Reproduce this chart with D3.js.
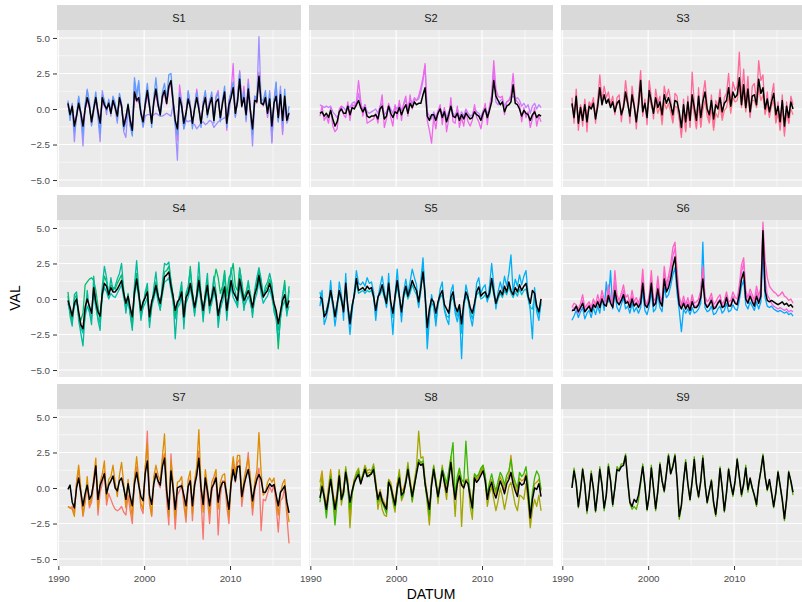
<!DOCTYPE html>
<html>
<head>
<meta charset="utf-8">
<script src="https://cdn.jsdelivr.net/npm/d3@7"></script>
<style>
  body { margin: 0; background: #fff; }
  svg { display: block; font-family: "Liberation Sans", Arial, sans-serif; }
</style>
</head>
<body>
<div id="main"></div>
<script>
// facet names and axis ticks
const stations = ['S1', 'S2', 'S3', 'S4', 'S5', 'S6', 'S7', 'S8', 'S9'];
const yTicks = [-5, -2.5, 0, 2.5, 5];
const xTickYears = [1990, 2000, 2010];

// one value per quarter, Feb 1991 .. Nov 2016 (104 values)
const s1_mean = [0.4,-0.4,0.2,-1.2, -0.5,0.4,-0.3,-1.2, 0.0,0.8,0.2,-0.9, 0.0,0.8,-0.2,-1.0, 0.8,0.3,0.0,0.4, -0.3,0.6,0.1,-0.5, 0.8,0.2,-1.2,-0.6, 0.3,-0.8,-1.5,1.2, 0.6,0.8,-0.3,-0.9, 0.3,1.3,0.2,-1.0, 0.5,1.4,0.3,-0.4, 0.9,1.3,0.4,1.6, 2.0,0.5,-0.8,-1.4, 0.8,0.2,-1.0,-0.3, 0.7,0.1,-1.0,0.0, 0.8,0.0,-1.0,0.2, 0.8,-0.4,0.3,0.8, -0.8,0.5,0.7,-0.6, 0.4,1.2,-1.0,0.3, 0.8,1.5,-0.3,0.5, 2.1,0.2,0.8,-0.4, 1.4,-0.1,-1.4,0.6, 0.5,2.3,0.4,0.3, 0.8,-0.3,0.7,-1.2, 0.4,0.9,-0.6,1.0, -0.8,0.9,-0.8,-0.3];
const s1_a = [0.5,-0.8,0.4,-1.6, -0.6,0.9,-0.2,-1.8, 0.3,1.3,0.5,-1.2, 0.2,1.2,-0.4,-1.7, 1.0,0.6,-0.1,0.6, -0.2,0.9,0.4,-0.8, 1.1,0.3,-1.5,-0.9, 0.4,-1.1,-1.9,2.2, 1.0,2.0,-0.2,-1.2, 0.6,1.8,0.4,-1.3, 0.8,2.2,0.6,-0.5, 1.2,1.8,0.7,2.4, 2.5,0.8,-1.0,-1.8, 1.1,0.4,-1.4,-0.6, 1.3,0.3,-1.4,0.2, 1.2,0.2,-1.3,0.4, 1.3,-0.6,0.5,1.2, -1.0,0.8,1.1,-0.9, 0.6,1.6,-1.3,0.5, 1.2,1.9,-0.5,0.8, 2.4,0.4,1.2,-0.7, 1.8,0.0,-1.8,0.9, 0.8,2.2,0.7,0.6, 1.3,-0.2,1.1,-1.5, 0.6,1.9,-0.9,1.3, -1.0,1.4,-0.8,0.2];
const s1_b = [0.6,-0.5,0.3,-2.3, -0.4,0.8,-0.5,-2.6, 0.2,1.4,0.3,-1.1, -0.2,0.9,-0.6,-2.3, 1.3,0.5,-0.4,0.7, -0.5,0.8,0.0,-1.0, 1.0,0.3,-1.6,-2.0, 0.1,-1.2,-1.8,1.9, 0.8,1.8,-0.4,-1.3, -0.5,-0.4,-0.4,-0.5, -0.4,-0.3,-0.4,-0.5, -0.5,-0.4,-0.3,-0.4, -0.5,0.3,-1.2,-3.6, 0.9,0.0,-1.4,-0.8, -0.9,-0.8,-1.0,-1.1, -1.4,-1.2,-1.0,-0.9, -1.1,-1.0,-0.8,-0.9, -1.3,-1.1,-0.9,-0.8, -0.7,-0.6,-0.7,-0.4, 1.0,1.8,-0.6,0.6, 2.6,0.1,1.0,-0.9, 1.2,-0.3,-2.6,0.5, 0.7,5.1,0.5,0.4, 0.9,-0.5,1.3,-2.4, 0.5,1.2,-0.9,1.6, -1.6,0.8,-1.0,-0.6];
const s1_c = [0.2,-0.2,0.1,-0.9, -0.4,0.3,-0.2,-1.0, 0.0,0.6,0.1,-0.8, 0.0,0.6,-0.1,-0.8, 0.5,0.2,0.0,0.3, -0.2,0.4,0.1,-0.4, 0.6,0.1,-1.0,-0.5, 0.2,-0.7,-1.2,0.9, 0.5,0.6,-0.2,-0.7, 0.2,1.0,0.1,-0.8, 0.4,1.1,0.2,-0.3, 0.7,1.1,0.3,1.4, 1.8,0.4,-0.9,-2.2, 1.7,0.5,-1.3,-0.2, 1.2,0.3,-1.2,0.1, 1.4,0.2,-1.1,0.5, 1.2,-0.3,0.6,1.0, -0.6,0.9,1.3,-0.7, 0.6,1.3,-1.5,0.6, 1.2,3.2,-0.5,0.7, 2.7,0.2,1.6,-0.5, 2.1,0.0,-1.6,0.9, 0.4,2.6,0.6,0.2, 1.0,-0.6,0.8,-2.3, 0.4,1.8,-0.8,1.2, -1.8,0.7,-0.9,-0.2];

const s2_mean = [-0.3,-0.2,-0.5,-0.3, -0.6,-0.1,-0.7,-1.2, -0.9,-0.2,0.0,-0.3, -0.3,0.2,-0.4,0.1, 0.0,0.3,0.6,0.1, -0.2,0.1,-0.5,-0.6, -0.5,-0.5,-0.4,-0.7, 0.0,0.2,-0.7,-0.5, 0.2,-0.3,-0.6,-0.2, -0.3,0.1,-0.4,0.0, 0.3,-0.3,0.4,0.1, 0.5,0.3,0.4,0.4, 1.0,1.5,-0.5,-0.8, -0.4,-0.4,-0.8,-0.3, 0.0,-0.6,-0.2,-0.9, -0.4,0.2,-0.5,-0.6, -0.3,-0.8,-0.4,-0.7, -0.3,-0.5,-0.7,-0.6, -0.2,-0.4,-0.5,-0.8, -0.3,0.0,-0.6,-0.1, 0.5,2.0,0.9,0.6, 0.3,0.5,-0.2,0.2, 0.3,0.5,1.7,0.4, 0.3,0.0,-0.5,-0.1, -0.3,-0.4,-0.8,-0.4, -0.2,-0.6,-0.4,-0.5];
const s2_a = [-0.5,0.2,-0.8,-0.5, -1.0,0.1,-1.2,-1.6, -1.4,0.0,0.2,-0.4, -0.6,0.5,-0.8,0.3, 0.2,0.5,2.0,0.6, -0.5,0.3,-1.0,-0.9, -0.8,-0.7,-0.3,-1.0, 0.1,1.0,-1.3,-0.7, 0.4,-0.6,-1.2,0.3, -0.7,0.6,-0.8,0.4, 0.9,-0.5,1.0,0.0, 0.7,0.6,0.9,1.5, 2.2,3.2,-0.8,-1.5, -2.4,-0.6,-1.4,-0.2, 0.3,-1.1,0.1,-1.6, -0.7,0.8,-0.9,-1.0, 0.2,-1.3,-0.6,-1.2, -0.1,-0.9,-1.2,-0.8, 0.3,-0.6,-0.9,-1.4, -0.5,0.4,-1.1,0.2, 1.0,3.4,1.4,0.9, 0.8,0.9,-0.4,0.5, 0.6,1.0,2.5,0.7, 0.5,0.3,-0.9,0.1, -0.6,-0.2,-1.3,-0.7, 0.1,-1.2,-0.5,-0.9];
const s2_b = [0.3,0.2,0.1,0.2, 0.1,0.2,-0.2,-0.4, -0.6,-0.3,0.2,0.1, -0.1,0.3,0.1,0.4, 0.5,0.2,1.1,0.3, 0.0,0.3,-0.2,-0.3, -0.2,-0.1,0.0,-0.3, 0.2,0.4,-0.4,-0.2, 0.3,0.0,-0.3,0.2, 0.0,0.4,-0.1,0.3, 0.6,0.1,0.7,0.4, 0.8,0.6,0.7,1.2, 2.0,3.0,-0.2,-0.5, -0.7,-0.2,-0.6,-0.1, 0.1,-0.4,0.0,-0.6, -0.2,0.3,-0.3,-0.5, 0.0,-0.6,-0.2,-0.5, 0.0,-0.3,-0.5,-0.4, 0.1,-0.2,-0.3,-0.6, -0.1,0.2,-0.4,0.1, 0.8,2.8,0.5,0.3, 0.6,0.7,0.2,0.5, 0.6,0.8,0.9,0.7, 0.8,0.6,0.2,0.4, 0.1,0.3,-0.3,0.2, 0.4,0.0,0.3,0.1];

const s3_mean = [0.4,-0.6,0.9,-1.0, 0.1,-0.8,0.3,-0.9, 0.2,0.0,0.4,-0.7, 0.2,1.5,0.3,1.0, 0.4,0.7,0.1,0.5, -0.2,0.4,0.6,-0.4, 0.1,1.2,0.4,-0.5, 1.0,0.2,-0.9,0.3, 2.0,-0.2,0.4,-0.6, 1.3,0.5,-0.3,0.8, 0.1,0.5,-0.4,1.0, 0.4,0.8,0.3,-0.4, 0.6,0.5,-0.2,-1.3, 0.3,-0.9,0.5,-0.8, 1.0,0.1,-0.8,0.9, -0.6,0.5,1.2,0.0, -0.4,0.6,-0.7,0.3, 0.0,0.8,-0.2,0.4, 0.6,1.5,0.2,1.2, 0.8,1.0,2.2,0.3, 1.7,0.1,1.4,-0.2, 0.9,1.0,0.3,2.1, 1.1,1.5,0.0,0.7, -0.2,0.5,1.1,-0.4, 0.2,-0.9,0.6,-1.2, 0.2,-0.6,0.5,0.0];
const s3_a = [0.8,-1.0,1.4,-1.5, 0.2,-1.2,0.7,-1.6, 0.5,0.2,0.8,-1.0, 0.6,2.4,0.6,1.6, 0.8,1.2,0.3,0.9, -0.4,0.8,1.0,-0.9, 0.3,2.0,0.7,-1.0, 1.6,0.4,-1.4,0.8, 2.7,-0.5,0.7,-1.1, 2.0,0.8,-0.7,1.4, 0.4,0.9,-0.8,1.6, 0.8,1.4,0.6,-0.9, 1.1,0.9,-0.6,-2.0, 0.7,-1.6,0.9,-1.3, 2.6,0.4,-1.3,1.5, -1.2,0.9,2.0,0.2, -0.9,1.0,-1.3,0.6, 0.2,1.4,-0.6,0.8, 1.1,2.5,0.4,1.9, 1.3,1.6,4.0,0.6, 2.8,0.3,2.3,-0.6, 1.6,1.8,0.5,3.4, 2.0,2.4,-0.3,1.2, -0.6,0.9,1.8,-0.9, 0.5,-1.4,1.0,-1.9, 0.5,-1.0,0.9,0.3];
const s3_b = [0.3,-0.4,0.6,-0.7, 0.3,-0.5,0.5,-0.6, 0.4,0.2,0.5,-0.4, 0.4,1.2,0.5,0.8, 0.6,0.5,0.3,0.4, 0.0,0.3,0.5,-0.2, 0.3,0.8,0.3,-0.3, 0.7,0.3,-0.6,0.2, 1.3,-0.1,0.3,-0.4, 0.8,0.2,-0.3,0.4, -0.3,0.2,-1.1,0.5, 0.0,0.4,-0.2,-1.0, 0.2,0.1,-0.7,-1.8, -0.2,-1.5,0.1,-1.2, 0.5,-0.4,-1.4,0.4, -1.3,-0.1,0.6,-0.5, -1.0,0.1,-1.5,-0.3, -0.6,0.3,-0.8,-0.1, 0.1,0.9,-0.3,0.8, 0.5,0.6,1.6,0.1, 1.2,-0.2,1.0,-0.5, 0.6,0.6,0.1,1.5, 0.6,1.0,-0.4,0.3, -0.5,0.2,0.6,-1.0, -0.3,-1.5,0.1,-1.7, -0.2,-1.0,0.0,-0.4];

const s4_mean = [-0.1,-0.6,-1.2,-0.3, 0.0,-0.9,-1.8,-2.1, -0.6,0.0,-0.5,-1.0, 0.8,-0.2,-0.9,-1.2, 0.4,1.1,0.9,0.3, 0.8,0.5,0.5,0.7, 1.0,1.3,0.4,-0.3, 0.2,-0.6,-1.25,0.5, 1.4,0.4,-0.8,-0.2, 0.1,0.5,-1.25,-0.2, 0.3,0.95,0.2,-0.3, 0.6,1.55,1.7,1.9, 0.9,0.2,-0.8,-0.2, 0.0,0.5,-1.25,0.1, 0.4,1.1,0.3,-0.6, 0.2,1.3,0.2,-0.8, 0.2,0.95,-0.45,0.1, 0.85,0.2,-1.15,-0.3, 0.2,0.85,-0.8,0.3, 1.3,0.5,0.2,-0.1, 1.4,0.6,-0.1,0.2, 0.6,0.1,-0.6,0.3, 0.8,1.65,0.8,0.15, 0.4,0.6,1.1,0.5, -0.3,-0.8,-1.75,-0.9, -0.1,0.3,-0.6,-0.1];
const s4_a = [0.2,-1.2,-1.9,0.3, 0.5,-1.5,-2.4,-3.3, -1.0,0.6,-0.9,-1.8, 1.6,-0.3,-1.5,-2.2, 0.9,2.3,1.5,0.2, 1.5,0.6,0.9,1.4, 1.8,2.5,0.6,-1.0, 0.4,-1.1,-2.2,1.0, 2.7,0.7,-1.5,-0.5, 0.5,1.1,-2.0,-0.6, 0.8,1.9,0.3,-0.8, 1.2,2.5,2.4,2.6, 1.3,0.1,-2.8,-0.7, 0.3,1.2,-2.1,0.4, 0.9,2.0,0.4,-1.2, 0.4,2.6,0.3,-1.6, 0.5,1.8,-1.0,0.3, 1.6,0.5,-2.0,-0.7, 0.6,1.8,-1.5,0.7, 2.2,1.0,0.5,-0.6, 2.1,1.1,-0.8,0.4, 1.3,0.2,-1.3,0.6, 1.5,2.2,1.4,0.1, 0.9,1.2,1.8,1.1, -0.9,-1.4,-2.9,-1.5, 0.3,1.0,-1.2,0.6];
const s4_b = [0.5,-0.8,-1.6,0.0, 0.3,-1.2,-1.5,-1.0, 1.0,1.2,1.4,1.5, 1.3,0.6,-0.5,-1.5, 0.6,1.6,1.2,0.4, 1.0,0.8,0.7,1.1, 1.4,1.7,0.5,-0.5, 0.3,-0.9,-2.0,0.6, 1.8,0.5,-1.2,-0.3, 0.2,0.9,-1.6,-0.3, 0.5,1.2,0.3,-0.6, 0.8,1.9,2.0,2.3, 1.2,0.3,-1.2,-0.4, 0.2,0.9,-1.6,0.3, 0.6,2.3,0.5,-0.8, 0.4,1.6,0.3,-1.1, 0.4,1.3,-0.6,0.2, 1.2,2.1,1.5,0.4, 0.9,2.0,0.2,1.5, 1.8,2.5,0.9,0.6, 2.2,1.2,0.1,0.5, 1.0,0.4,-0.9,0.5, 1.1,2.0,1.2,0.3, 0.6,0.9,1.4,0.8, -0.5,-1.0,-3.5,-1.2, 0.2,1.3,-0.9,0.9];
const s4_c = [-0.3,-0.9,-1.5,-0.5, -0.2,-1.1,-2.0,-2.4, -1.2,-0.5,-0.9,-1.4, 0.4,-0.6,-1.3,-1.7, 0.2,0.8,0.5,0.0, 0.4,0.2,0.1,0.4, 0.7,1.0,0.1,-0.7, -0.2,-1.0,-1.7,0.2, 1.1,0.1,-1.2,-0.6, -0.3,0.1,-1.6,-0.5, 0.0,0.7,-0.2,-0.7, 0.3,1.2,1.3,1.5, 0.6,-0.2,-1.4,-0.6, -0.4,0.2,-1.7,-0.3, 0.1,0.8,-0.1,-1.0, -0.1,0.9,-0.2,-1.2, -0.2,0.6,-0.8,-0.3, 0.5,-0.1,-1.5,-0.7, -0.2,0.5,-1.2,-0.1, 0.9,0.1,-0.2,-0.5, 1.0,0.2,-0.5,-0.2, 0.2,-0.3,-1.0,-0.1, 0.4,1.3,0.4,-0.3, 0.0,0.2,0.7,0.1, -0.7,-1.2,-2.2,-1.3, -0.5,-0.1,-1.0,-0.5];

const s5_mean = [0.15,0.0,-1.25,-1.0, -0.3,0.6,-0.2,-1.25, -0.4,0.6,0.0,-0.9, 1.1,-0.5,-1.75,-0.5, 0.3,1.45,0.6,0.7, 0.8,0.6,0.9,0.7, 0.8,0.2,-0.8,0.1, 0.5,1.0,0.3,-0.3, 1.1,-0.2,-1.0,0.2, 1.3,0.2,-0.9,0.3, 0.9,0.2,0.7,1.3, 0.9,0.6,-0.2,0.8, 1.9,0.3,-2.0,-0.7, 0.0,-0.2,-1.0,-0.2, 0.3,0.6,-0.4,-0.7, -1.0,0.1,0.5,-0.5, -0.9,-0.4,-1.75,-0.3, 0.5,0.1,-0.6,-1.0, -0.3,0.5,0.85,0.2, 0.4,0.5,0.1,0.4, 1.45,0.5,-0.3,0.2, 0.6,0.3,0.9,0.5, 1.2,0.6,0.3,0.8, 0.5,1.0,0.6,0.9, 1.1,0.2,-0.3,0.6, 0.4,-0.5,-0.9,0.0];
const s5_a = [-0.5,0.6,-1.8,-1.3, -0.5,1.3,-0.4,-1.9, -0.8,1.2,0.3,-1.5, 1.8,-0.8,-2.5,-0.9, 0.5,2.0,1.1,1.0, 1.2,0.9,1.5,1.1, 1.2,0.5,-1.5,0.0, 0.9,1.6,0.6,-0.6, 1.8,-0.6,-2.5,0.2, 2.1,0.3,-1.6,0.5, 1.4,0.4,1.2,2.1, 1.5,1.0,-0.6,1.3, 2.9,0.2,-3.5,-1.4, 0.3,-0.5,-1.9,-0.4, 0.7,1.2,-0.8,-1.4, -1.8,0.5,1.0,-1.0, -1.6,-0.8,-4.2,-0.6, 1.0,0.3,-1.2,-1.9, -0.7,1.1,1.5,0.4, 0.8,1.0,-0.2,0.9, 2.5,1.0,-0.7,0.5, 1.2,0.6,1.6,0.9, 1.8,3.1,0.5,1.4, 0.9,1.7,1.0,1.6, 2.0,0.3,-0.8,-2.8, 0.8,-0.9,-1.5,-0.2];
const s5_b = [0.5,-0.3,-1.0,-0.8, -0.1,0.3,-0.5,-1.1, -0.2,0.3,-0.2,-0.8, 0.8,-0.6,-1.4,-0.4, 0.2,1.1,0.4,0.5, 0.6,0.4,0.6,0.5, 0.6,0.1,-1.2,0.2, 0.3,0.7,0.1,-0.5, 0.7,-0.3,-1.3,0.0, 0.9,0.0,-1.2,0.1, 0.6,0.0,0.4,1.0, 0.6,0.3,-0.5,0.5, 2.5,0.5,-2.6,-1.0, -0.3,-0.5,-1.5,-0.4, 0.1,0.3,-0.7,-1.2, -1.3,-0.2,0.2,-0.8, -1.2,-0.6,-2.4,-0.5, 0.2,-0.1,-0.9,-1.4, -0.5,0.3,0.5,0.0, 0.1,0.3,-0.1,0.2, 1.2,0.3,-0.5,0.0, 0.4,0.1,0.6,0.3, 0.9,0.4,0.1,0.5, 0.2,0.7,0.3,0.6, 0.7,0.0,-0.6,-0.7, 0.1,-0.7,-1.1,-0.3];

const s6_mean = [-0.8,-0.8,-0.5,-0.9, -0.6,-0.3,-0.9,-0.7, -0.5,-0.9,-0.4,-0.6, -0.2,-0.6,0.0,-0.4, -0.5,0.25,-0.3,-0.6, 0.6,-0.2,-0.4,-0.1, 0.3,-0.3,-0.2,-0.6, 0.0,-0.5,-0.3,-0.6, -0.3,1.1,-0.4,-0.6, -0.2,1.1,-0.5,-0.3, 0.7,-0.2,-0.5,1.4, 0.5,0.8,1.4,2.3, 2.95,1.0,-0.4,-0.7, -0.3,-0.7,-0.4,-0.8, -0.2,-0.6,-0.6,-0.4, 0.1,1.4,-0.3,-0.6, -0.4,-0.1,-0.7,-0.6, -0.3,-0.1,-0.6,-0.5, 0.1,-0.5,-0.5,0.0, -0.3,-0.4,0.3,1.4, 1.9,0.0,-0.3,0.2, -0.2,-0.5,0.2,-0.3, 0.2,4.8,0.6,-0.1, -0.2,-0.1,-0.2,-0.3, -0.4,-0.3,-0.2,-0.4, -0.3,-0.5,-0.4,-0.6];
const s6_a = [-0.6,-0.3,-0.4,-0.7, -0.3,0.3,-0.6,-0.4, -0.2,-0.6,0.0,-0.4, 0.3,-0.3,0.6,0.0, -0.2,1.0,0.1,-0.3, 2.0,0.3,-0.1,0.4, 1.0,0.1,0.3,-0.3, 0.6,-0.2,0.1,-0.3, 0.2,2.1,0.0,-0.4, 0.3,2.0,-0.2,0.1, 1.6,0.2,-0.1,2.3, 1.0,1.6,2.4,3.6, 4.0,2.0,0.2,-0.4, 0.2,-0.4,0.1,-0.5, 0.3,-0.3,-0.2,0.0, 0.6,2.3,0.2,-0.2, 0.0,0.4,-0.4,-0.2, 0.1,0.3,-0.4,-0.1, 0.5,-0.2,-0.1,0.5, 0.1,0.0,1.0,2.4, 2.9,0.6,0.1,0.7, 0.3,-0.1,0.9,0.2, 0.8,5.4,2.7,1.5, 0.9,0.7,0.5,0.4, 0.2,0.3,0.5,0.2, 0.1,-0.1,0.0,-0.3];
const s6_b = [-0.9,-0.6,-0.6,-1.0, -0.7,-0.1,-0.8,-0.6, -0.4,-0.8,-0.3,-0.5, -0.1,-0.5,0.2,-0.3, -0.4,0.6,-0.2,-0.5, 1.2,-0.1,-0.3,0.0, 0.6,-0.2,-0.1,-0.5, 0.2,-0.4,-0.2,-0.5, -0.1,1.6,-0.3,-0.5, 0.0,1.5,-0.4,-0.2, 1.1,0.0,-0.4,1.8, 0.7,1.2,1.9,3.0, 3.6,1.4,-0.2,-0.6, -0.1,-0.6,-0.2,-0.7, 0.0,-0.5,-0.5,-0.3, 0.3,1.9,-0.2,-0.5, -0.3,0.1,-0.6,-0.5, -0.2,0.0,-0.5,-0.4, 0.3,-0.4,-0.4,0.2, -0.2,-0.3,0.6,1.9, 2.5,0.3,-0.2,0.4, 0.0,-0.4,0.5,-0.1, 0.4,5.0,1.5,0.3, 0.0,-0.3,-0.5,-0.6, -0.7,-0.6,-0.7,-0.8, -0.7,-0.9,-0.8,-0.9];
const s6_c = [-1.5,-1.2,-0.8,-1.3, -0.9,-0.6,-1.4,-1.0, -0.8,-1.3,-0.6,-1.1, -0.5,-1.0,0.2,-0.8, 1.2,-0.2,2.0,-0.7, 0.4,-0.6,-0.9,-0.4, 0.1,-0.7,-0.5,-1.0, -0.3,-0.9,-0.6,-1.0, -0.6,0.5,-0.8,-1.1, -0.5,0.5,-0.9,-0.7, 0.3,-0.6,-0.9,0.8, 0.1,0.3,0.9,1.7, 2.2,0.4,-0.8,-2.3, -0.7,-1.0,-0.7,-1.1, -0.6,-1.0,-0.9,-0.7, -0.3,4.0,-0.6,-0.9, -0.8,-0.5,-1.1,-1.0, -0.7,-0.5,-1.0,-0.8, -0.3,-0.9,-0.8,-0.4, -0.7,-0.8,-0.1,0.9, 1.3,-0.4,-0.7,-0.2, -0.5,-0.8,-0.2,-0.7, -0.2,3.5,0.1,-0.5, -0.6,-0.5,-0.7,-0.8, -0.9,-0.8,-0.9,-1.0, -0.9,-1.1,-1.0,-1.2];

const s7_mean = [-0.1,0.2,-1.0,-1.4, 0.0,0.7,-0.3,-1.25, -0.4,0.2,-0.8,-0.5, 0.4,1.55,-0.8,0.2, 0.6,1.0,-0.4,0.2, 0.5,0.85,0.0,-0.2, 0.5,0.7,0.0,-0.8, 0.3,-0.6,-1.25,0.3, 1.1,0.2,-0.6,-0.9, 1.0,1.9,-0.5,-1.15, 0.3,1.0,0.5,0.2, 1.5,2.1,-0.2,-1.5, 1.2,0.0,-1.5,0.0, 0.1,0.15,-0.5,-1.25, 0.1,0.5,-1.25,0.2, 0.9,2.1,0.0,-1.15, 0.7,-0.2,-1.25,0.0, 0.3,0.7,-1.0,0.0, 0.4,0.4,-0.5,-1.5, 0.3,1.3,0.5,1.5, 1.55,-0.6,0.2,0.8, 1.3,0.3,-0.9,0.0, 0.6,0.95,0.6,-0.3, -0.3,0.0,0.3,0.1, 0.25,-0.5,-1.25,-0.3, -0.1,0.15,-1.0,-1.75];
const s7_a = [-1.3,-1.4,-1.5,-2.0, 0.4,1.6,0.0,-1.9, -0.8,0.8,-1.2,-0.7, 0.7,2.1,-1.5,0.4, 1.0,1.9,-0.8,0.6, 0.8,1.6,0.4,-0.6, 0.9,1.8,0.3,-1.4, 0.6,-1.0,-2.0,0.7, 2.2,0.6,-1.1,-1.5, 1.5,3.1,-0.8,-1.9, 0.8,1.6,0.9,0.5, 2.2,3.8,0.2,-2.0, 1.9,0.4,-2.1,0.4, 0.5,0.8,-0.8,-2.0, 0.6,1.2,-1.8,0.5, 1.5,4.1,0.3,-1.7, 1.3,0.1,-1.8,0.4, 0.8,1.3,-1.5,0.4, 0.9,1.0,-0.7,-2.0, 0.8,2.2,1.0,2.3, 2.3,-0.8,0.6,1.4, 2.1,0.8,-1.4,0.4, 1.2,3.9,1.1,-0.5, -0.3,0.4,0.7,0.4, 0.7,-0.6,-1.9,-0.4, 0.3,0.6,-1.3,-2.4];
const s7_b = [-1.3,-1.4,-1.3,-1.8, 0.3,1.3,-0.5,-2.0, -1.0,0.3,-1.4,-1.0, 0.2,1.6,-1.9,-0.3, 0.3,1.2,-1.2,-0.4, -0.8,-1.2,-1.5,-1.6, -1.5,-1.3,-1.7,-1.9, -0.5,-1.6,-2.5,0.6, 1.5,0.3,-1.4,-1.8, 1.2,4.0,-1.1,-2.0, 0.5,1.1,0.4,0.0, 2.0,2.4,-0.9,-2.6, 2.4,-0.2,-2.9,-0.5, -0.2,0.3,-1.2,-2.4, 0.1,0.7,-2.3,0.0, 1.3,2.6,-0.7,-3.6, 0.9,-0.7,-2.5,-0.3, 0.5,0.9,-3.3,-0.6, 0.5,0.5,-1.3,-2.5, 0.3,1.7,0.4,1.8, 2.0,-1.3,-0.1,1.1, 2.5,0.1,-1.9,-0.3, 0.8,1.4,-3.0,-0.8, -0.9,-0.4,0.1,-0.3, 0.2,-1.2,-3.1,-0.9, -0.7,0.0,-2.0,-3.9];

const s8_mean = [-0.7,0.1,-0.6,-1.5, -0.4,0.6,-0.5,-1.5, -0.6,0.85,-0.8,-0.3, 1.1,0.2,-1.0,-0.2, 0.4,0.7,0.95,0.3, 0.8,1.3,0.8,0.9, 1.0,1.3,0.2,-0.8, -0.3,-0.9,-1.2,-1.5, 0.4,0.1,-0.6,-1.2, 0.0,0.7,-0.5,-0.3, 0.4,1.3,0.3,-0.6, 0.2,1.0,1.8,1.6, 1.7,0.3,-0.6,-1.5, 0.2,1.3,0.3,-0.6, 0.2,1.2,0.4,-0.3, 0.6,1.8,0.3,-0.8, 0.3,0.85,0.2,0.0, 0.5,0.3,-0.6,-1.4, 0.7,0.4,0.6,0.9, 1.2,0.5,-0.8,0.0, 0.4,-0.3,-0.7,-0.1, 0.5,0.1,-0.4,0.3, 0.6,1.1,0.3,-0.2, -0.6,0.4,0.2,0.3, 0.85,-0.4,-2.1,-0.8, 0.0,-0.1,0.3,-0.6];
const s8_a = [-0.2,0.8,-0.8,-1.7, -0.2,1.0,-0.4,-2.0, -0.5,1.3,-1.2,-0.2, 1.5,0.3,-2.8,-0.4, 0.6,1.1,1.4,0.4, 1.0,1.6,1.2,1.3, 1.2,1.7,0.4,-1.5, -0.6,-1.5,-1.9,-2.0, 0.6,0.2,-1.0,-1.7, 0.2,1.3,-0.9,-0.5, 0.6,1.8,0.4,-1.0, 0.5,1.5,4.0,2.1, 2.2,0.5,-1.1,-2.6, 0.4,1.6,0.5,-1.1, 0.4,1.6,0.2,-0.8, 0.9,2.2,0.5,-2.0, 0.5,1.3,-2.7,0.2, 0.6,0.5,-1.3,-2.2, 1.0,0.6,0.9,1.2, 1.6,0.6,-1.3,-0.4, 0.1,-0.8,-1.6,-0.9, 0.0,-0.6,-1.5,-0.7, 0.1,0.4,-0.4,-1.2, -1.6,-0.5,-0.6,-0.8, 0.3,-1.0,-2.8,-1.5, -0.8,-1.3,-0.5,-1.6];
const s8_b = [-1.0,0.2,-0.7,-2.1, -0.6,0.8,-0.7,-2.6, -0.9,0.9,-0.9,-0.5, 1.3,0.0,-1.5,-0.4, 0.3,0.9,1.2,0.3, 0.9,1.4,0.9,0.8, 1.1,1.5,0.1,-1.0, -0.4,-1.0,-1.4,-1.8, 0.5,0.0,-0.8,-1.4, -0.2,0.9,-0.7,-0.4, 0.4,1.5,0.2,-0.9, 0.1,1.1,2.0,1.8, 1.9,0.2,-0.8,-1.9, 0.3,1.5,0.5,-0.7, 0.4,1.4,0.9,0.3, 1.2,2.1,3.2,-0.6, 0.8,1.4,0.6,0.4, 3.3,0.9,-0.4,-1.6, 1.0,0.8,1.0,1.4, 1.6,0.9,-0.5,0.4, 1.0,0.3,-0.2,0.5, 1.1,0.8,0.2,0.9, 1.2,2.0,0.9,0.4, 0.0,1.1,0.8,1.0, 1.5,0.2,-1.9,-0.3, 0.7,1.2,0.9,-0.1];
const s8_c = [0.4,1.2,-0.4,-1.2, 0.1,1.3,-0.2,-1.3, -0.2,1.2,-0.5,0.0, 1.2,0.6,-2.4,-0.2, 0.6,0.9,1.0,0.5, 0.9,1.5,1.0,1.1, 1.1,1.5,0.5,-0.9, -0.1,-0.7,-1.0,-1.3, 0.6,0.4,-0.4,-1.0, 0.3,1.1,-0.3,0.0, 0.6,1.5,0.6,-0.4, 0.4,1.2,2.0,1.8, 1.6,0.6,-0.4,-2.3, 0.5,1.4,0.6,-0.4, 0.5,1.3,0.6,0.0, 0.8,2.0,0.7,-0.5, 0.6,1.1,0.3,0.2, 0.6,0.6,-0.3,-1.2, 0.9,0.6,0.8,1.1, 1.4,0.8,-0.6,0.3, 0.6,0.1,-0.4,0.2, 0.8,0.4,-0.1,0.6, 0.9,2.3,0.6,0.1, -0.3,0.7,0.5,0.6, 1.0,-0.1,-2.4,-0.6, 0.3,0.4,0.6,-0.2];

const s9_mean = [0.0,1.2,0.3,-1.3, -0.2,1.3,0.2,-1.6, -0.5,1.0,0.0,-1.6, -0.3,1.3,0.2,-1.4, -0.5,1.5,0.5,-1.15, 0.0,1.3,1.2,1.5, 1.6,2.25,0.5,-1.0, -1.3,-0.8,-1.0,-0.5, 0.5,1.5,0.2,-1.5, -0.5,1.4,0.0,-1.45, -0.2,1.65,0.5,-0.2, 1.0,2.25,1.0,1.5, 2.25,0.5,-2.0,-1.2, 0.5,1.8,0.3,-0.8, 0.5,2.0,0.3,-0.6, 0.5,2.1,0.3,-1.0, -0.2,0.5,-1.0,-1.85, -0.5,1.35,0.0,-1.6, -0.3,1.3,0.3,-0.45, 0.5,2.0,0.8,-0.45, 0.3,1.4,-0.1,0.7, 0.0,-0.5,-1.15,0.3, 1.2,2.25,0.8,-0.1, 0.6,-0.3,-1.3,-0.3, 1.1,0.2,-0.8,-2.15, -0.8,1.1,0.5,-0.3];
const s9_a = [0.1,1.4,0.4,-1.4, -0.2,1.4,0.2,-1.8, -0.5,1.2,-0.1,-1.7, -0.3,1.5,0.3,-1.6, -0.5,1.7,0.6,-1.3, 0.0,1.5,1.3,1.7, 1.7,2.4,0.4,-1.1, -1.5,-1.3,-1.5,-0.9, 0.3,1.7,0.1,-1.6, -0.6,1.6,0.0,-1.6, -0.3,1.8,0.5,-0.3, 1.1,2.4,1.0,1.6, 2.4,0.5,-2.2,-1.3, 0.5,2.0,0.3,-0.9, 0.4,2.2,0.2,-0.7, 0.4,2.3,0.2,-1.1, -0.3,0.6,-1.1,-2.0, -0.5,1.5,0.0,-1.7, -0.4,1.4,0.2,-0.6, 0.4,2.1,0.7,-0.6, 0.2,1.6,-0.3,0.6, 0.0,-0.6,-1.3,0.2, 1.3,2.4,0.8,-0.2, 0.5,-0.4,-1.4,-0.4, 1.2,0.1,-0.9,-2.3, -0.9,1.2,0.4,-0.5];

// series per facet, back to front, mean last
const facetSeries = [
  [s1_c, s1_b, s1_a], [s2_b, s2_a], [s3_b, s3_a],
  [s4_c, s4_b, s4_a], [s5_b, s5_a], [s6_c, s6_b, s6_a],
  [s7_b, s7_a], [s8_c, s8_a, s8_b], [s9_a]
];
const facetMeans = [s1_mean, s2_mean, s3_mean, s4_mean, s5_mean, s6_mean, s7_mean, s8_mean, s9_mean];

const facetColors = [
  ['#E76BF3', '#A18FFF', '#619CFF'], ['#C77CFF', '#EF67EB'], ['#FF7A86', '#FF6A98'],
  ['#00BFAE', '#00BE67', '#00BA9B'], ['#00BCD8', '#00B0F6'], ['#00A9FF', '#F564E3', '#FF61C3'],
  ['#F8766D', '#DE8C00'], ['#C49A00', '#A3A500', '#39B600'], ['#53B400']
];

const dates = d3.range(s1_mean.length).map(i => new Date(1991, 1 + 3 * i, 15));

// layout
const W = 802, H = 602;
const colX = [57, 309, 561];
const stripTop = [5, 195, 384];
const pw = 244, ph = 157, sh = 25;

const svg = d3.select('#main').append('svg')
  .attr('width', W)
  .attr('height', H);

svg.append('rect').attr('width', W).attr('height', H).attr('fill', '#fff');

const x = d3.scaleTime()
  .domain([new Date(1989, 10, 6), new Date(2018, 3, 8)])
  .range([0, pw]);
const y = d3.scaleLinear()
  .domain([-5.49, 5.56])
  .range([ph, 0]);

const line = d3.line()
  .x((d, i) => x(dates[i]))
  .y(d => y(d));

const xMajor = xTickYears.map(yr => new Date(yr, 0, 1));
const xMinor = [1995, 2005, 2015].map(yr => new Date(yr, 0, 1));
const yMinor = [-3.75, -1.25, 1.25, 3.75];

stations.forEach((name, i) => {
  const c = i % 3, r = Math.floor(i / 3);
  const g = svg.append('g').attr('transform', `translate(${colX[c]},${stripTop[r]})`);

  // strip
  g.append('rect').attr('width', pw).attr('height', sh).attr('fill', '#D9D9D9');
  g.append('text')
    .attr('x', pw / 2).attr('y', sh / 2)
    .attr('text-anchor', 'middle')
    .attr('dominant-baseline', 'central')
    .attr('font-size', 11)
    .attr('fill', '#1A1A1A')
    .text(name);

  const p = g.append('g').attr('transform', `translate(0,${sh})`);
  p.append('rect').attr('width', pw).attr('height', ph).attr('fill', '#EBEBEB');

  // grid
  p.selectAll('.ymin').data(yMinor).enter().append('line')
    .attr('x1', 0).attr('x2', pw).attr('y1', d => y(d)).attr('y2', d => y(d))
    .attr('stroke', '#fff').attr('stroke-width', 0.55);
  p.selectAll('.xmin').data(xMinor).enter().append('line')
    .attr('y1', 0).attr('y2', ph).attr('x1', d => x(d)).attr('x2', d => x(d))
    .attr('stroke', '#fff').attr('stroke-width', 0.55);
  p.selectAll('.ymaj').data(yTicks).enter().append('line')
    .attr('x1', 0).attr('x2', pw).attr('y1', d => y(d)).attr('y2', d => y(d))
    .attr('stroke', '#fff').attr('stroke-width', 1.1);
  p.selectAll('.xmaj').data(xMajor).enter().append('line')
    .attr('y1', 0).attr('y2', ph).attr('x1', d => x(d)).attr('x2', d => x(d))
    .attr('stroke', '#fff').attr('stroke-width', 1.1);

  // series
  facetSeries[i].forEach((vals, k) => {
    p.append('path')
      .attr('d', line(vals))
      .attr('fill', 'none')
      .attr('stroke', facetColors[i][k])
      .attr('stroke-width', 1.3)
      .attr('stroke-linejoin', 'round');
  });
  p.append('path')
    .attr('d', line(facetMeans[i]))
    .attr('fill', 'none')
    .attr('stroke', '#000')
    .attr('stroke-width', 1.5)
    .attr('stroke-linejoin', 'round');

  // axes
  if (c === 0) {
    const ax = p.append('g')
      .call(d3.axisLeft(y).tickValues(yTicks).tickSize(4).tickPadding(3).tickFormat(d3.format('.1f')));
    ax.select('.domain').remove();
    ax.selectAll('line').attr('stroke', '#333');
    ax.selectAll('text').attr('fill', '#4D4D4D').attr('font-size', 9.8)
      .attr('font-family', '"Liberation Sans", Arial, sans-serif');
  }
  if (r === 2) {
    const ax = p.append('g')
      .attr('transform', `translate(0,${ph})`)
      .call(d3.axisBottom(x).tickValues(xMajor).tickSize(4).tickPadding(5).tickFormat(d3.timeFormat('%Y')));
    ax.select('.domain').remove();
    ax.selectAll('line').attr('stroke', '#333');
    ax.selectAll('text').attr('fill', '#4D4D4D').attr('font-size', 9.8)
      .attr('font-family', '"Liberation Sans", Arial, sans-serif');
  }
});

// axis titles
svg.append('text')
  .attr('x', (colX[0] + colX[2] + pw) / 2)
  .attr('y', 599)
  .attr('text-anchor', 'middle')
  .attr('font-size', 14)
  .attr('fill', '#000')
  .text('DATUM');

svg.append('text')
  .attr('transform', `translate(20,${(stripTop[0] + sh + stripTop[2] + sh + ph) / 2}) rotate(-90)`)
  .attr('text-anchor', 'middle')
  .attr('font-size', 14)
  .attr('fill', '#000')
  .text('VAL');
</script>
</body>
</html>
